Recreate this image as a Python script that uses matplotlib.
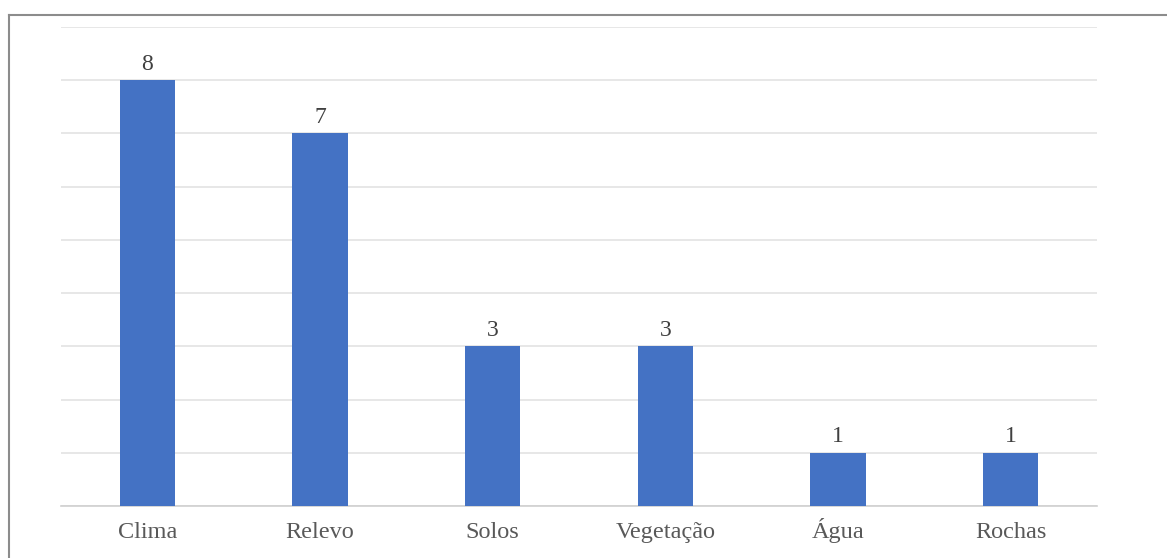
import matplotlib
matplotlib.use('Agg')
import matplotlib.pyplot as plt
from matplotlib.lines import Line2D

categories = ['Clima', 'Relevo', 'Solos', 'Vegetação', 'Água', 'Rochas']
values = [8, 7, 3, 3, 1, 1]

W, H = 1167, 558
fig = plt.figure(figsize=(W / 100, H / 100), dpi=100)
fig.patch.set_facecolor('white')

# outer frame of the figure (only top and left are visible in the reference)
fx = 8.5 / W
fy = 1 - 14.5 / H
fig.add_artist(Line2D([fx, fx], [0, fy], transform=fig.transFigure, color='#8c8c8c', lw=1.5))
fig.add_artist(Line2D([fx, 1], [fy, fy], transform=fig.transFigure, color='#8c8c8c', lw=1.5))

left, right = 61 / W, 1097 / W
bottom, top = 1 - 506 / H, 1 - 27 / H
ax = fig.add_axes([left, bottom, right - left, top - bottom])

x = range(len(categories))
bars = ax.bar(x, values, width=0.32, color='#4472C4', zorder=3)

ax.set_xlim(-0.5, len(categories) - 0.5)
ax.set_ylim(0, 9)
ax.set_yticks(range(0, 10))
ax.yaxis.grid(True, color='#e3e3e3', lw=1.2)
ax.set_axisbelow(True)
ax.tick_params(axis='y', left=False, labelleft=False)
ax.tick_params(axis='x', bottom=False, length=0, pad=23)
ax.set_xticks(list(x))
ax.set_xticklabels(categories, fontfamily='Liberation Serif', fontsize=17.5,
                   color='#595959', va='baseline')

for s in ['top', 'right', 'left']:
    ax.spines[s].set_visible(False)
ax.spines['bottom'].set_color('#d0d0d0')
ax.spines['bottom'].set_linewidth(1.2)

for rect, v in zip(bars, values):
    ax.annotate(str(v), (rect.get_x() + rect.get_width() / 2, v),
                xytext=(0, 7.5), textcoords='offset points', ha='center', va='baseline',
                fontfamily='Liberation Serif', fontsize=17, color='#404040')

fig.savefig('out.png', dpi=100)
